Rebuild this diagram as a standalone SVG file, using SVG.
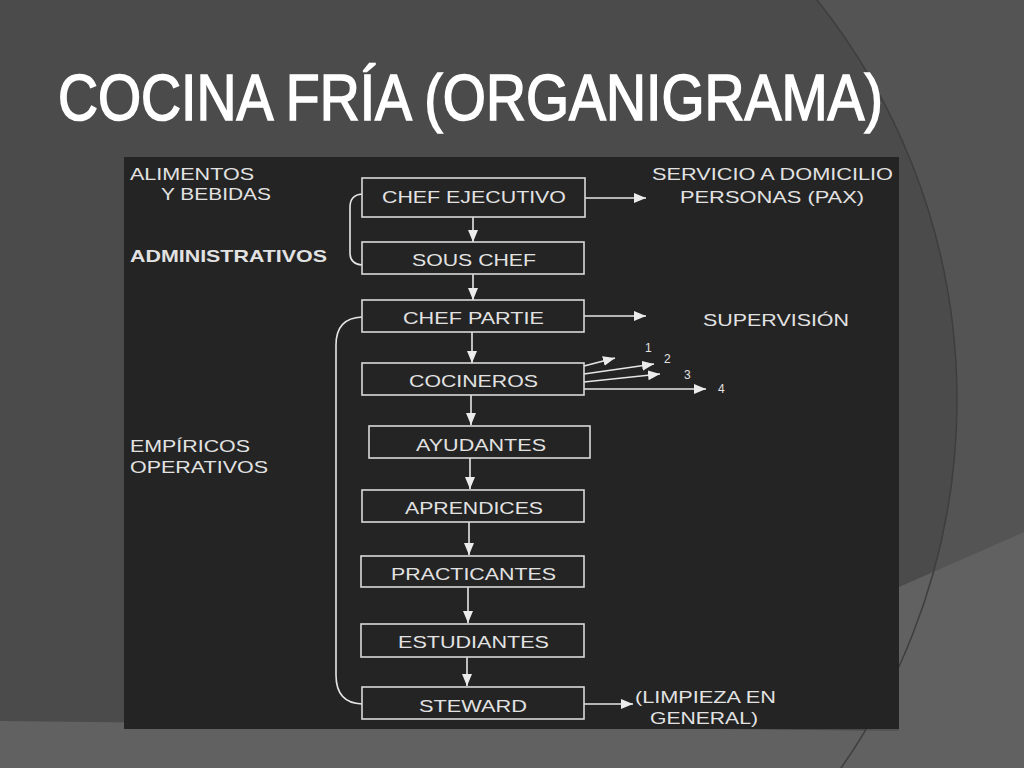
<svg xmlns="http://www.w3.org/2000/svg" width="1024" height="768" viewBox="0 0 1024 768">
<defs>
<style>
.t{font-family:"Liberation Sans",Arial,sans-serif;font-size:17px;fill:#e2e2e2;}
.n{font-family:"Liberation Sans",Arial,sans-serif;font-size:12px;fill:#e2e2e2;}
.box{fill:none;stroke:#d9d9d9;stroke-width:1.6;}
.ln{fill:none;stroke:#e6e6e6;stroke-width:1.6;}
</style>
<marker id="ah" viewBox="0 0 12 10" refX="12" refY="5" markerWidth="12" markerHeight="10" markerUnits="userSpaceOnUse" orient="auto">
<path d="M0,0 L12,5 L0,10 z" fill="#ececec"/>
</marker>
</defs>
<g id="background">
<rect x="0" y="0" width="1024" height="768" fill="#545454"/>
<circle cx="316" cy="400" r="641" fill="#4b4b4b"/>
<polygon points="0,721 899,731 899,587 1024,532 1024,768 0,768" fill="#616161"/>
<circle cx="316" cy="400" r="641" fill="none" stroke="#3e3e3e" stroke-width="1.5"/>
</g>
<text x="58" y="120" font-family="'Liberation Sans',Arial,sans-serif" font-size="65" fill="#ffffff" stroke="#ffffff" stroke-width="1.6" textLength="825" lengthAdjust="spacingAndGlyphs">COCINA FRÍA (ORGANIGRAMA)</text>
<rect id="panel" x="124" y="157" width="775" height="572" fill="#242424"/>
<g id="labels">
<text class="t" x="130" y="180" textLength="124" lengthAdjust="spacingAndGlyphs">ALIMENTOS</text>
<text class="t" x="161" y="200" textLength="110" lengthAdjust="spacingAndGlyphs">Y BEBIDAS</text>
<text class="t" x="130" y="262" font-weight="bold" fill="#f2f2f2" textLength="197" lengthAdjust="spacingAndGlyphs">ADMINISTRATIVOS</text>
<text class="t" x="130" y="452" textLength="120" lengthAdjust="spacingAndGlyphs">EMPÍRICOS</text>
<text class="t" x="130" y="473" textLength="138" lengthAdjust="spacingAndGlyphs">OPERATIVOS</text>
<text class="t" x="652" y="180" textLength="241" lengthAdjust="spacingAndGlyphs">SERVICIO A DOMICILIO</text>
<text class="t" x="680" y="203" textLength="184" lengthAdjust="spacingAndGlyphs">PERSONAS (PAX)</text>
<text class="t" x="703" y="326" textLength="146" lengthAdjust="spacingAndGlyphs">SUPERVISIÓN</text>
<text class="t" x="635" y="703" textLength="141" lengthAdjust="spacingAndGlyphs">(LIMPIEZA EN</text>
<text class="t" x="650" y="724" textLength="108" lengthAdjust="spacingAndGlyphs">GENERAL)</text>
<text class="n" x="645" y="352">1</text>
<text class="n" x="664" y="363">2</text>
<text class="n" x="684" y="379">3</text>
<text class="n" x="718" y="393">4</text>
</g>
<g id="connectors">
<path class="ln" d="M473,217 V242" marker-end="url(#ah)"/>
<path class="ln" d="M473,274 V300" marker-end="url(#ah)"/>
<path class="ln" d="M472,332 V363" marker-end="url(#ah)"/>
<path class="ln" d="M471,395 V425" marker-end="url(#ah)"/>
<path class="ln" d="M470,458 V489" marker-end="url(#ah)"/>
<path class="ln" d="M469,522 V555" marker-end="url(#ah)"/>
<path class="ln" d="M468,587 V623" marker-end="url(#ah)"/>
<path class="ln" d="M467,657 V686" marker-end="url(#ah)"/>
<path class="ln" d="M585,198 H646" marker-end="url(#ah)"/>
<path class="ln" d="M584,316 H646" marker-end="url(#ah)"/>
<path class="ln" d="M584,704 H633" marker-end="url(#ah)"/>
<path class="ln" d="M584,366 L615,358" marker-end="url(#ah)"/>
<path class="ln" d="M584,374 L654,364" marker-end="url(#ah)"/>
<path class="ln" d="M584,382 L660,374" marker-end="url(#ah)"/>
<path class="ln" d="M584,389 L706,389" marker-end="url(#ah)"/>
<path class="ln" d="M362,194 Q350,195 350,207 V253 Q350,264 362,265"/>
<path class="ln" d="M362,317 Q336,318 336,345 V675 Q336,703 362,704"/>
</g>
<g id="chef-ejecutivo"><rect class="box" x="362" y="178" width="223" height="39"/><text class="t" x="382" y="203" textLength="184" lengthAdjust="spacingAndGlyphs">CHEF EJECUTIVO</text></g>
<g id="sous-chef"><rect class="box" x="362" y="242" width="222" height="32"/><text class="t" x="412" y="266" textLength="124" lengthAdjust="spacingAndGlyphs">SOUS CHEF</text></g>
<g id="chef-partie"><rect class="box" x="362" y="300" width="222" height="32"/><text class="t" x="403" y="324" textLength="141" lengthAdjust="spacingAndGlyphs">CHEF PARTIE</text></g>
<g id="cocineros"><rect class="box" x="362" y="363" width="222" height="32"/><text class="t" x="409" y="387" textLength="129" lengthAdjust="spacingAndGlyphs">COCINEROS</text></g>
<g id="ayudantes"><rect class="box" x="369" y="426" width="221" height="32"/><text class="t" x="416" y="451" textLength="130" lengthAdjust="spacingAndGlyphs">AYUDANTES</text></g>
<g id="aprendices"><rect class="box" x="362" y="490" width="222" height="32"/><text class="t" x="405" y="514" textLength="138" lengthAdjust="spacingAndGlyphs">APRENDICES</text></g>
<g id="practicantes"><rect class="box" x="361" y="556" width="223" height="31"/><text class="t" x="391" y="580" textLength="165" lengthAdjust="spacingAndGlyphs">PRACTICANTES</text></g>
<g id="estudiantes"><rect class="box" x="361" y="624" width="223" height="33"/><text class="t" x="398" y="648" textLength="151" lengthAdjust="spacingAndGlyphs">ESTUDIANTES</text></g>
<g id="steward"><rect class="box" x="362" y="687" width="222" height="32"/><text class="t" x="419" y="712" textLength="108" lengthAdjust="spacingAndGlyphs">STEWARD</text></g>
</svg>
